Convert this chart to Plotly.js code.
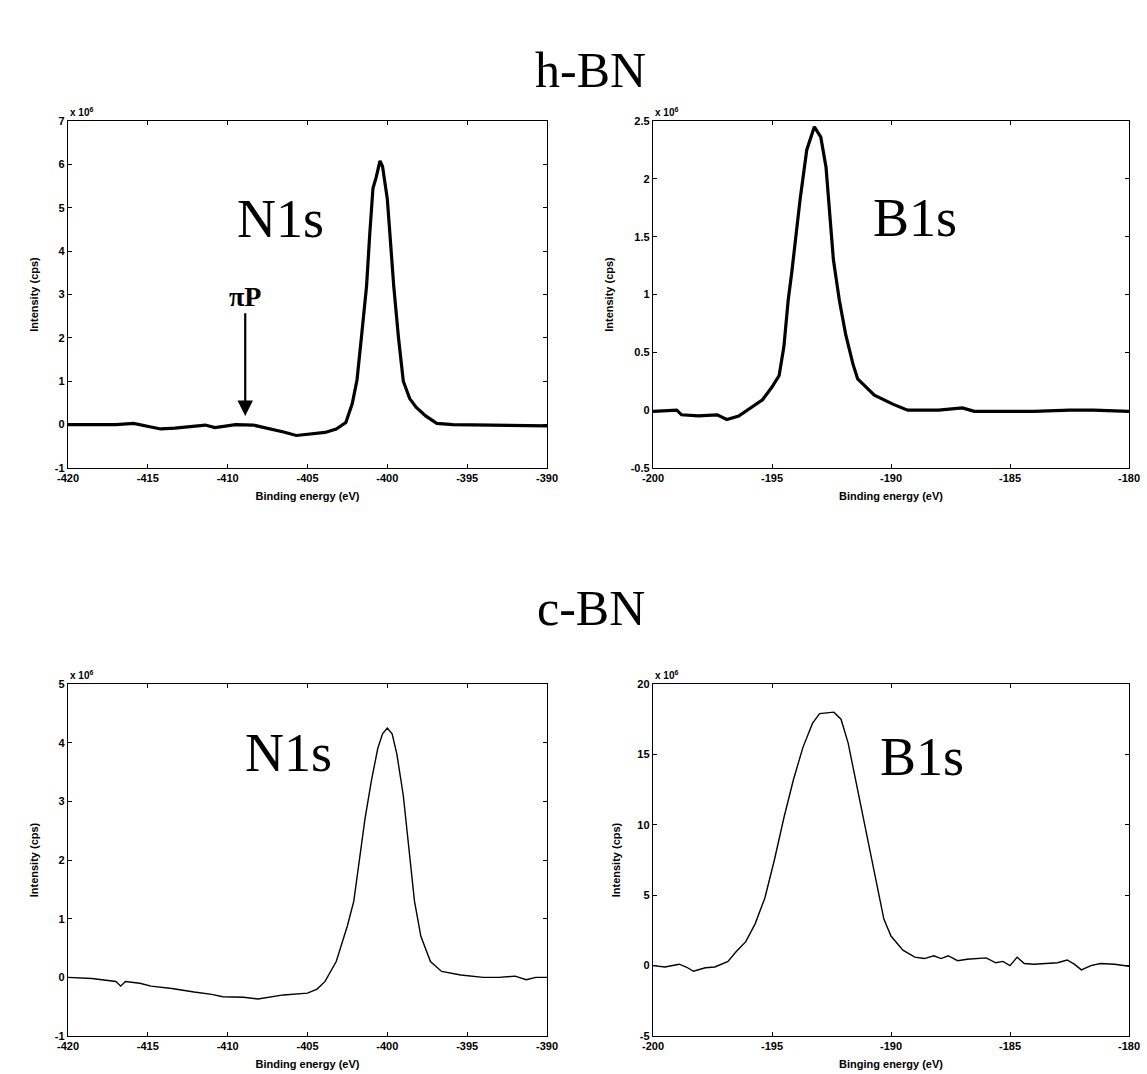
<!DOCTYPE html>
<html><head><meta charset="utf-8">
<script src="https://cdn.plot.ly/plotly-3.0.1.min.js"></script>
<style>html,body{margin:0;padding:0;background:#fff}</style>
</head><body><div id="chart" style="width:1147px;height:1074px"></div>
<script>
// h-BN N1s (intensity x 10^6)
const hbnN_x = [-420,-418.1,-417,-415.9,-414.2,-413.3,-412.6,-411.4,-410.8,-409.5,-408.4,-407.3,-406.5,-405.7,-404.8,-403.9,-403.2,-402.6,-402.2,-401.9,-401.6,-401.3,-401.1,-400.9,-400.7,-400.46,-400.3,-400.0,-399.8,-399.6,-399.3,-399.0,-398.6,-398.2,-397.6,-396.9,-395.9,-394,-392,-390];
const hbnN_y = [0.0,-0.01,0.0,0.03,-0.1,-0.08,-0.06,-0.01,-0.07,0.0,-0.01,-0.1,-0.17,-0.25,-0.22,-0.18,-0.1,0.05,0.48,1.03,2.1,3.2,4.4,5.45,5.7,6.08,5.95,5.2,4.2,3.2,2.0,1.0,0.6,0.4,0.2,0.03,0.0,-0.01,-0.02,-0.03];
// h-BN B1s (intensity x 10^6)
const hbnB_x = [-200,-199,-198.8,-198.1,-197.3,-196.9,-196.4,-195.9,-195.4,-195.0,-194.7,-194.5,-194.32,-194.17,-193.82,-193.54,-193.22,-192.95,-192.73,-192.42,-192.17,-191.9,-191.6,-191.4,-190.7,-189.9,-189.3,-188,-187,-186.5,-185,-184,-182.5,-181.5,-180];
const hbnB_y = [-0.01,0.0,-0.04,-0.05,-0.04,-0.08,-0.05,0.02,0.09,0.2,0.3,0.55,0.95,1.19,1.82,2.25,2.45,2.36,2.1,1.3,0.95,0.65,0.4,0.27,0.13,0.05,0.0,0.0,0.02,-0.01,-0.01,-0.01,0.0,0.0,-0.01];
// c-BN N1s (intensity x 10^6)
const cbnN_x = [-420,-418.5,-417,-416.7,-416.4,-415.5,-414.8,-413.5,-412.1,-411,-410.3,-409,-408.1,-407.3,-406.5,-405,-404.4,-403.9,-403.2,-402.5,-402.1,-401.8,-401.4,-401.0,-400.6,-400.3,-400.0,-399.7,-399.4,-399.0,-398.6,-398.3,-397.9,-397.6,-397.3,-396.6,-395.4,-394,-393,-392,-391.3,-390.7,-390];
const cbnN_y = [0.0,-0.02,-0.07,-0.15,-0.07,-0.1,-0.15,-0.19,-0.25,-0.29,-0.33,-0.34,-0.37,-0.33,-0.3,-0.27,-0.2,-0.07,0.27,0.88,1.3,1.9,2.7,3.35,3.9,4.15,4.25,4.15,3.8,3.1,2.1,1.3,0.7,0.5,0.27,0.1,0.04,0.0,0.0,0.02,-0.04,0.0,0.0];
// c-BN B1s (intensity x 10^6)
const cbnB_x = [-200,-199.5,-198.9,-198.6,-198.3,-197.8,-197.4,-197,-196.85,-196.5,-196.1,-195.7,-195.3,-194.9,-194.5,-194.1,-193.7,-193.3,-193.0,-192.4,-192.1,-191.8,-191.4,-191.0,-190.6,-190.3,-190.0,-189.5,-189,-188.6,-188.2,-187.9,-187.6,-187.2,-186.8,-186.4,-186,-185.6,-185.3,-185,-184.7,-184.4,-184,-183.5,-183,-182.6,-182.3,-182.0,-181.6,-181.2,-180.6,-180];
const cbnB_y = [0.0,-0.1,0.1,-0.1,-0.4,-0.15,-0.1,0.2,0.3,1.0,1.7,3.0,4.8,7.5,10.5,13.2,15.5,17.2,17.9,18.0,17.5,15.8,12.5,9.0,5.8,3.3,2.1,1.1,0.6,0.5,0.7,0.5,0.7,0.35,0.45,0.5,0.55,0.2,0.3,0.0,0.6,0.15,0.1,0.15,0.2,0.4,0.1,-0.3,0.0,0.15,0.1,-0.05];

const xTicksN = [-420,-415,-410,-405,-400,-395,-390];
const xTicksB = [-200,-195,-190,-185,-180];
const yTicksHN = [-1,0,1,2,3,4,5,6,7];
const yTicksHB = [-0.5,0,0.5,1,1.5,2,2.5];
const yTicksCN = [-1,0,1,2,3,4,5];
const yTicksCB = [-5,0,5,10,15,20];

const traces = [
  {x:hbnN_x,y:hbnN_y,xaxis:'x',yaxis:'y',mode:'lines',line:{color:'#000',width:3.2},hoverinfo:'skip'},
  {x:hbnB_x,y:hbnB_y,xaxis:'x2',yaxis:'y2',mode:'lines',line:{color:'#000',width:3.2},hoverinfo:'skip'},
  {x:cbnN_x,y:cbnN_y,xaxis:'x3',yaxis:'y3',mode:'lines',line:{color:'#000',width:1.4},hoverinfo:'skip'},
  {x:cbnB_x,y:cbnB_y,xaxis:'x4',yaxis:'y4',mode:'lines',line:{color:'#000',width:1.4},hoverinfo:'skip'}
];

const sans = 'Arial, Liberation Sans, sans-serif';
const tickFont = {family:sans,size:11,color:'#000'};
const titleFont = {family:sans,size:11,color:'#000'};
const b = v => '<b>' + v + '</b>';
function xax(dom, anchor, range, tv, title){
  return {domain:dom,anchor:anchor,range:range,tickvals:tv,ticktext:tv.map(b),
    ticks:'inside',ticklen:4,tickwidth:1,tickcolor:'#000',mirror:'ticks',showline:true,linecolor:'#000',linewidth:1.2,
    showgrid:false,zeroline:false,tickfont:tickFont,
    title:{text:b(title),font:titleFont,standoff:8}};
}
function yax(dom, anchor, range, tv){
  return {domain:dom,anchor:anchor,range:range,tickvals:tv,ticktext:tv.map(b),
    ticks:'inside',ticklen:4,tickwidth:1,tickcolor:'#000',mirror:'ticks',showline:true,linecolor:'#000',linewidth:1.2,
    showgrid:false,zeroline:false,tickfont:tickFont,
    title:{text:b('Intensity (cps)'),font:titleFont,standoff:14}};
}
const dxL=[68/1147,547/1147], dxR=[653/1147,1129/1147];
const dyT=[1-468/1074,1-121/1074], dyB=[1-1036/1074,1-684/1074];

const serif = 'Liberation Serif, Times New Roman, serif';
const big = {family:serif,size:54,color:'#000'};
const layout = {
  width:1147,height:1074,margin:{l:0,r:0,t:0,b:0},paper_bgcolor:'#fff',plot_bgcolor:'#fff',showlegend:false,
  xaxis: xax(dxL,'y',[-420,-390],xTicksN,'Binding energy (eV)'),
  yaxis: yax(dyT,'x',[-1,7],yTicksHN),
  xaxis2: xax(dxR,'y2',[-200,-180],xTicksB,'Binding energy (eV)'),
  yaxis2: yax(dyT,'x2',[-0.5,2.5],yTicksHB),
  xaxis3: xax(dxL,'y3',[-420,-390],xTicksN,'Binding energy (eV)'),
  yaxis3: yax(dyB,'x3',[-1,5],yTicksCN),
  xaxis4: xax(dxR,'y4',[-200,-180],xTicksB,'Binging energy (eV)'),
  yaxis4: yax(dyB,'x4',[-5,20],yTicksCB),
  annotations:[
    {text:'h-BN',xref:'paper',yref:'paper',x:0.515,y:1-40/1074,showarrow:false,font:{family:serif,size:50,color:'#000'}},
    {text:'c-BN',xref:'paper',yref:'paper',x:0.515,y:1-608/1074,showarrow:false,font:{family:serif,size:50,color:'#000'}},
    {text:'N1s',xref:'x',yref:'y',x:-406.7,y:4.75,showarrow:false,font:big},
    {text:'B1s',xref:'x2',yref:'y2',x:-189.0,y:1.66,showarrow:false,font:big},
    {text:'N1s',xref:'x3',yref:'y3',x:-406.2,y:3.82,showarrow:false,font:big},
    {text:'B1s',xref:'x4',yref:'y4',x:-188.7,y:14.8,showarrow:false,font:big},
    {text:'πP',xref:'x',yref:'y',x:-408.9,y:2.95,showarrow:false,font:{family:serif,size:28,color:'#000',weight:'bold'}},
    {text:'',xref:'x',yref:'y',x:-408.9,y:0.2,axref:'x',ayref:'y',ax:-408.9,ay:2.6,showarrow:true,arrowhead:2,arrowsize:1.4,arrowwidth:2.2,arrowcolor:'#000'},
    {text:b('x 10<sup>6</sup>'),xref:'x domain',yref:'y domain',x:0,y:1,xanchor:'left',yanchor:'bottom',yshift:1,showarrow:false,font:{family:sans,size:10,color:'#000'}},
    {text:b('x 10<sup>6</sup>'),xref:'x2 domain',yref:'y2 domain',x:0,y:1,xanchor:'left',yanchor:'bottom',yshift:1,showarrow:false,font:{family:sans,size:10,color:'#000'}},
    {text:b('x 10<sup>6</sup>'),xref:'x3 domain',yref:'y3 domain',x:0,y:1,xanchor:'left',yanchor:'bottom',yshift:1,showarrow:false,font:{family:sans,size:10,color:'#000'}},
    {text:b('x 10<sup>6</sup>'),xref:'x4 domain',yref:'y4 domain',x:0,y:1,xanchor:'left',yanchor:'bottom',yshift:1,showarrow:false,font:{family:sans,size:10,color:'#000'}}
  ]
};
Plotly.newPlot('chart',traces,layout,{displayModeBar:false,staticPlot:true});
</script></body></html>
